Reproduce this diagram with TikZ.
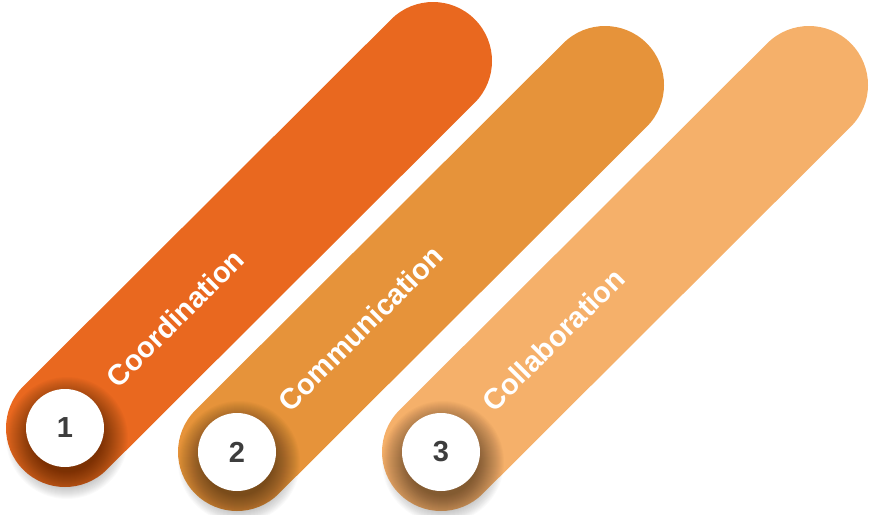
\documentclass[tikz,border=0pt]{standalone}
\usepackage{fontspec}
\setmainfont{Liberation Sans}
\usetikzlibrary{calc}

\definecolor{barone}{HTML}{E9681F}
\definecolor{bartwo}{HTML}{E6933A}
\definecolor{barthree}{HTML}{F5B06A}
\definecolor{numgray}{HTML}{3D3D3D}

\tikzset{
  bar/.style={line width=118pt, line cap=round},
  softshade/.style={fill=black, opacity=0.018},
  numdisc/.style={circle, fill=white, minimum size=78pt, inner sep=0pt,
    text=numgray, font=\bfseries\fontsize{29}{29}\selectfont},
  barlabel/.style={text=white, font=\bfseries\fontsize{29}{29}\selectfont,
    rotate=45, anchor=west, inner sep=0pt}
}

\begin{document}
\begin{tikzpicture}[x=1pt, y=-1pt]
\useasboundingbox (0,0) rectangle (869,514);
% bars, bottom end first
\foreach \i/\x/\y/\col in {1/65/428/barone, 2/237/452/bartwo, 3/441/452/barthree}{
  \coordinate (s\i) at (\x,\y);
  \coordinate (e\i) at ($(s\i)+(368,-367)$);
  \draw[bar, \col] (s\i) -- (e\i);
  % soft shadow under the number disc
  \coordinate (sh\i) at ($(s\i)+(2,10)$);
  \foreach \r in {34,...,61}
    \fill[softshade] (sh\i) circle (\r pt);
}
% labels and numbers
\foreach \i/\lab in {1/Coordination, 2/Communication, 3/Collaboration}{
  \node[barlabel] (lab\i) at ($(s\i)+(46,-46)$) {\lab};
  \node[numdisc] (num\i) at (s\i) {\i};
}
\end{tikzpicture}
\end{document}
